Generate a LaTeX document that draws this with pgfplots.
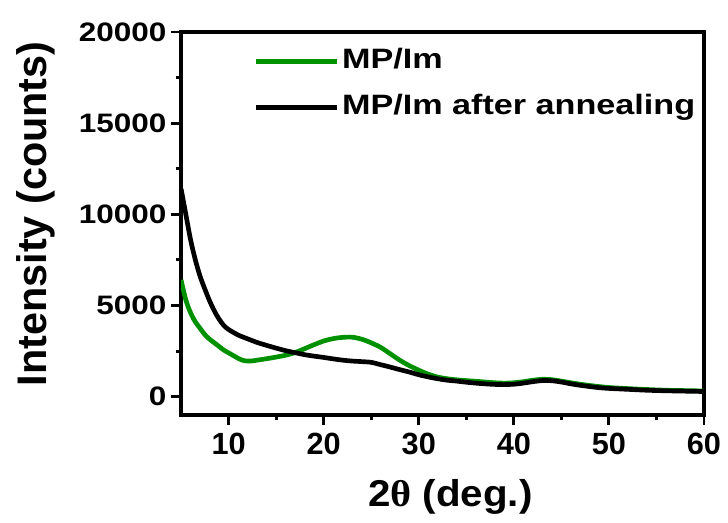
\documentclass[border=0pt]{standalone}
\usepackage{pgfplots}
\pgfplotsset{compat=1.18}
\usepackage{fontspec}
\setmainfont{Liberation Sans}
\newfontfamily\ytickfont{Liberation Sans}[FakeStretch=1.18]
\newfontfamily\legfont{Liberation Sans}[FakeStretch=1.22]
\newfontfamily\xlabfont{Liberation Sans}[FakeStretch=1.08]
\newfontfamily\grk{Liberation Serif}[FakeStretch=1.08]
\definecolor{xrdgreen}{RGB}{0,145,0}

\begin{document}
\begin{tikzpicture}
\begin{axis}[
    scale only axis,
    width=392pt, height=287pt,
    xmin=5, xmax=60, ymin=-1000, ymax=20000,
    xtick={10,20,...,60}, ytick={0,5000,...,20000},
    minor x tick num=1, minor y tick num=1,
    xtick pos=bottom, ytick pos=left,
    tick align=outside,
    major tick length=7.5pt, minor tick length=4pt,
    every tick/.style={line width=2.2pt, black},
    axis line style={line width=2.6pt},
    scaled y ticks=false,
    /pgf/number format/1000 sep={},
    /pgf/number format/assume math mode=true,
    xticklabel style={font=\bfseries\fontsize{23}{23}\selectfont, yshift=-3pt},
    yticklabel style={font=\ytickfont\bfseries\fontsize{20}{20}\selectfont},
    xlabel={\xlabfont\bfseries 2{\grk θ} (deg.)},
    ylabel={\bfseries Intensity (counts)},
    xlabel style={font=\fontsize{28}{28}\selectfont, inner sep=0pt,
        at={(axis description cs:0.515,-0.240)}, anchor=base},
    ylabel style={font=\fontsize{31}{31}\selectfont, inner sep=0pt,
        at={(axis description cs:-0.241,0.525)}, anchor=south},
    legend cell align=left,
    legend image code/.code={\draw[#1, line width=4pt] (0pt,0pt) -- (61pt,0pt);},
    legend style={draw=none, fill=none, at={(axis description cs:0.1377,0.958)},
        anchor=north west, inner sep=0pt, row sep=14.5pt, column sep=1.5pt,
        font=\legfont\bfseries\fontsize{21}{21}\selectfont,
        nodes={inner sep=0pt, text height=15pt, text depth=5pt}},
]
\addplot[xrdgreen, line width=3.5pt, smooth] coordinates {
(5,6400) (5.5,5300) (6,4600) (6.5,4100) (7,3750) (7.5,3400) (8,3150) (8.5,2950)
(9,2750) (9.5,2550) (10,2400) (10.5,2250) (11,2100) (11.5,1990) (12,1950) (12.5,1960)
(13,2000) (14,2080) (15,2170) (16,2270) (17,2420) (18,2630) (19,2850) (20,3050)
(21,3180) (22,3250) (23,3260) (24,3150) (25,2950) (26,2700) (27,2350) (28,2000)
(29,1700) (30,1450) (31,1230) (32,1070) (33,980) (34,920) (35,880) (36,840)
(37,800) (38,760) (39,740) (40,760) (41,820) (42,900) (43,950) (44,930)
(45,850) (46,760) (47,680) (48,610) (49,550) (50,500) (52,440) (54,390)
(56,350) (58,330) (60,310)
};
\addlegendentry{MP/Im}
\addplot[black, line width=3.5pt, smooth] coordinates {
(5,11400) (5.5,10000) (6,8600) (6.5,7500) (7,6600) (7.5,5900) (8,5250) (8.5,4700)
(9,4250) (9.5,3900) (10,3680) (11,3380) (12,3170) (13,2970) (14,2810) (15,2660)
(16,2520) (17,2410) (18,2300) (19,2220) (20,2150) (21,2070) (22,2000) (23,1950)
(24,1920) (25,1880) (26,1750) (27,1620) (28,1480) (29,1350) (30,1200) (31,1080)
(32,980) (33,900) (34,850) (35,790) (36,740) (37,700) (38,670) (39,660)
(40,680) (41,740) (42,820) (43,880) (44,870) (45,800) (46,700) (47,620)
(48,550) (49,490) (50,450) (52,400) (54,350) (56,320) (58,300) (60,280)
};
\addlegendentry{MP/Im after annealing}
\end{axis}
\pgfresetboundingbox
\path ([shift={(-135.75pt,-81pt)}]current axis.south west)
    rectangle ([shift={(18pt,24pt)}]current axis.north east);
\end{tikzpicture}
\end{document}
